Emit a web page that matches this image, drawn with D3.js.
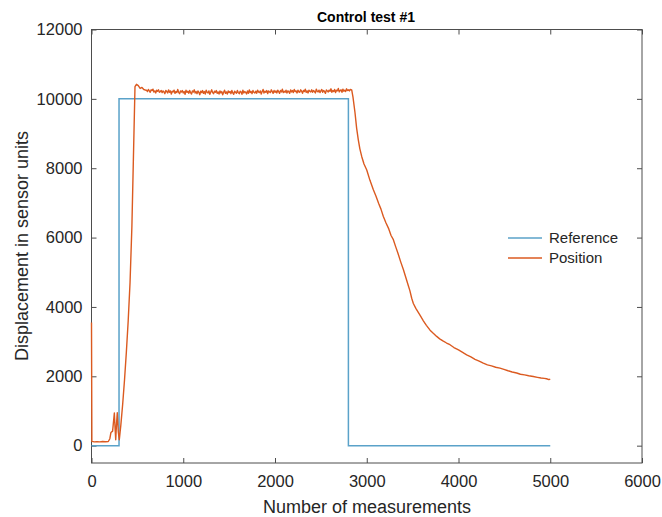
<!DOCTYPE html>
<html><head><meta charset="utf-8">
<script src="https://cdn.jsdelivr.net/npm/d3@7"></script>
<style>body{margin:0;background:#fff}svg{display:block}text{font-family:"Liberation Sans",Arial,sans-serif}</style>
</head><body>
<svg id="c" width="662" height="517"></svg>
<script>
const xTicks=[0,1000,2000,3000,4000,5000,6000];
const yTicks=[0,2000,4000,6000,8000,10000,12000];
const seriesNames=["Reference","Position"];
const refX=[0,300,300,2800,2800,5000];
const refY=[0,0,10000,10000,0,0];
const posStartX=[0,4,30,60,90,120,150,183,200,212,230,249,257,264,272,281,292,303,320,340,360,380,400,420,440,456,474,490,510,530,550,570,590];
const posStartY=[3550,124,110,115,108,118,112,120,200,380,420,940,500,170,600,950,400,170,600,1200,1900,2700,3600,4700,6300,8200,10350,10420,10380,10300,10330,10270,10250];
const plateauY=[
10250,10210,10270,10230,10190,10260,10240,10280,10200,10230,10170,10250,10220,10260,10190,10210,10240,10180,10230,10200,
10150,10240,10210,10170,10260,10190,10230,10140,10220,10200,10250,10160,10210,10180,10270,10190,10150,10230,10200,10240,
10170,10210,10130,10250,10190,10220,10160,10240,10180,10140,10230,10200,10260,10170,10210,10150,10230,10190,10120,10220,
10180,10240,10160,10210,10140,10250,10190,10170,10230,10130,10200,10260,10180,10150,10220,10190,10240,10160,10200,10140,
10230,10170,10210,10120,10190,10250,10160,10200,10140,10230,10180,10210,10150,10240,10170,10130,10220,10190,10160,10240,
10180,10150,10220,10200,10130,10250,10170,10210,10190,10140,10230,10160,10260,10180,10210,10150,10240,10190,10170,10220,
10160,10250,10200,10180,10230,10140,10210,10270,10170,10220,10190,10240,10150,10230,10200,10180,10260,10210,10160,10240,
10190,10230,10170,10250,10210,10160,10240,10200,10280,10180,10220,10190,10250,10170,10230,10210,10160,10260,10200,10240,
10180,10270,10210,10230,10170,10250,10200,10190,10260,10220,10160,10240,10210,10280,10190,10230,10170,10250,10220,10200,
10260,10190,10240,10210,10170,10280,10220,10200,10250,10180,10230,10270,10190,10240,10210,10160,10260,10230,10200,10250,
10220,10290,10190,10240,10210,10270,10180,10250,10230,10300,10200,10240,10260,10190,10280,10220,10250,10210,10290,10240,
10260,10230,10270];
const posEndX=[2836,2850,2872,2890,2908,2925,2945,2970,3000,3035,3072,3100,3130,3155,3181,3210,3240,3265,3290,3315,3340,3370,3399,3420,3435,3450,3470,3490,3508,3535,3560,3590,3617,3650,3690,3725,3762,3795,3830,3870,3907,3950,4000,4045,4089,4135,4180,4225,4270,4315,4360,4405,4452,4495,4540,4585,4634,4675,4720,4765,4815,4860,4900,4935,4960,4985,5000];
const posEndY=[10260,10050,9600,9150,8820,8560,8340,8120,7950,7650,7380,7200,6980,6820,6610,6420,6250,6060,5940,5740,5550,5300,5080,4900,4770,4640,4470,4250,4100,3960,3850,3720,3600,3470,3330,3240,3150,3080,3020,2960,2910,2830,2760,2690,2620,2560,2490,2440,2380,2330,2300,2260,2235,2200,2160,2125,2095,2060,2040,2015,1995,1970,1950,1940,1930,1905,1920];

const posX=[],posY=[];
posStartX.forEach((x,i)=>{posX.push(x);posY.push(posStartY[i]);});
plateauY.forEach((y,i)=>{posX.push(600+i*10);posY.push(y);});
posEndX.forEach((x,i)=>{posX.push(x);posY.push(posEndY[i]);});

const svg=d3.select("#c");
const L=91.5,T=29.5,W=550.5,H=433.5;
const x=d3.scaleLinear().domain([0,6000]).range([L,L+W]);
const y=d3.scaleLinear().domain([-500,12000]).range([T+H,T]);
const axisCol="#4d4d4d", textCol="#262626";

const gx=svg.append("g").attr("transform",`translate(0,${T+H})`).call(d3.axisBottom(x).tickValues(xTicks).tickSize(-5).tickPadding(12).tickFormat(d3.format("d")));
const gxt=svg.append("g").attr("transform",`translate(0,${T})`).call(d3.axisTop(x).tickValues(xTicks).tickSize(-5).tickFormat(""));
const gy=svg.append("g").attr("transform",`translate(${L},0)`).call(d3.axisLeft(y).tickValues(yTicks).tickSize(-5).tickPadding(9).tickFormat(d3.format("d")));
const gyr=svg.append("g").attr("transform",`translate(${L+W},0)`).call(d3.axisRight(y).tickValues(yTicks).tickSize(-5).tickFormat(""));
[gx,gxt,gy,gyr].forEach(g=>{
  g.select(".domain").remove();
  g.selectAll(".tick line").attr("stroke",axisCol);
  g.selectAll(".tick text").attr("fill",textCol).style("font-size","16.5px").style("font-family","'Liberation Sans',Arial,sans-serif");
});
svg.append("rect").attr("x",L).attr("y",T).attr("width",W).attr("height",H).attr("fill","none").attr("stroke",axisCol).attr("stroke-width",1);

const line=d3.line().x(d=>x(d[0])).y(d=>y(d[1]));
const refCol="#5aa2c9", posCol="#db5a20";
svg.append("path").datum(refX.map((v,i)=>[v,refY[i]])).attr("d",line).attr("fill","none").attr("stroke",refCol).attr("stroke-width",1.5);
svg.append("path").datum(posX.map((v,i)=>[v,posY[i]])).attr("d",line).attr("fill","none").attr("stroke",posCol).attr("stroke-width",1.4).attr("stroke-linejoin","round");

svg.append("text").attr("x",366).attr("y",22).attr("text-anchor","middle").attr("fill","#000").style("font-size","14px").style("font-weight","bold").text("Control test #1");
svg.append("text").attr("x",367).attr("y",513).attr("text-anchor","middle").attr("fill",textCol).style("font-size","18px").text("Number of measurements");
svg.append("text").attr("transform","translate(28,246) rotate(-90)").attr("text-anchor","middle").attr("fill",textCol).style("font-size","18px").text("Displacement in sensor units");

const cols=[refCol,posCol];
seriesNames.forEach((n,i)=>{
  const yy=238+i*20;
  svg.append("line").attr("x1",508).attr("x2",542).attr("y1",yy).attr("y2",yy).attr("stroke",cols[i]).attr("stroke-width",1.5);
  svg.append("text").attr("x",549).attr("y",yy+5).attr("fill",textCol).style("font-size","15px").text(n);
});
</script>
</body></html>
